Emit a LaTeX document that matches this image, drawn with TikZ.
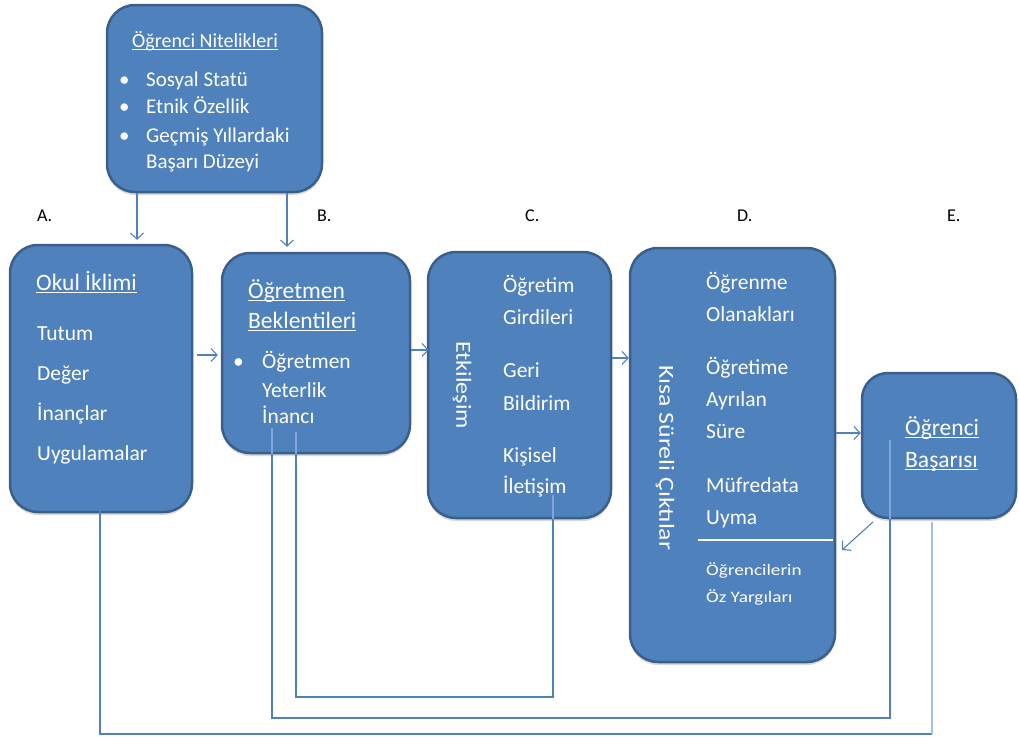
\documentclass[tikz,border=0pt]{standalone}
\usepackage{fontspec}
\setmainfont{Carlito}
\usetikzlibrary{arrows.meta,shadows}
\definecolor{boxfill}{HTML}{4F81BD}
\definecolor{boxline}{HTML}{3A5F8B}
\definecolor{conn}{HTML}{4F81BD}
\definecolor{inconn}{HTML}{7FA6DC}
\definecolor{paleconn}{HTML}{A3BFE6}
\newcommand\myul[1]{\setbox0\hbox{#1}\rlap{\rule[-2.8pt]{\wd0}{1pt}}\box0}
\tikzset{
  box/.style={draw=boxline, line width=2.5pt, fill=boxfill, rounded corners=28pt,
    drop shadow={opacity=0.3, shadow xshift=0pt, shadow yshift=-3pt}},
  txt/.style={anchor=base west, inner sep=0pt, text=white, font=\fontsize{21.5}{26}\selectfont},
  ttl/.style={txt, font=\fontsize{23.5}{28}\selectfont},
  small/.style={txt, font=\fontsize{16}{20}\selectfont},
  rot/.style={inner sep=0pt, text=white, font=\fontsize{21.5}{26}\selectfont, rotate=-90},
  lbl/.style={anchor=base west, inner sep=0pt, font=\fontsize{18}{22}\selectfont},
  arr/.style={draw=conn, line width=1.1pt, -{Straight Barb[length=6pt,width=13pt]}},
  link/.style={draw=conn, line width=1.3pt},
  inlink/.style={draw=inconn, line width=1.3pt}
}
\begin{document}
\begin{tikzpicture}[x=1pt,y=-1pt]
\useasboundingbox (0,0) rectangle (1019,736);
% boxes
\node[box, minimum width=215pt, minimum height=187pt] (N) at (214.5,98.5) {};
\node[box, minimum width=182pt, minimum height=267pt] (A) at (101,378.5) {};
\node[box, minimum width=188pt, minimum height=200pt] (B) at (316,353) {};
\node[box, minimum width=183pt, minimum height=266pt] (C) at (519.5,385) {};
\node[box, minimum width=205pt, minimum height=414pt] (D) at (732.5,455) {};
\node[box, minimum width=154pt, minimum height=145pt, rounded corners=26pt] (E) at (939,445.5) {};

% top box text
\node[txt, font=\fontsize{20}{24}\selectfont] (n0) at (132,47) {\myul{Öğrenci Nitelikleri}};
\node[txt, font=\fontsize{21}{25}\selectfont] (nb1) at (119,86) {•};
\node[txt, font=\fontsize{21}{25}\selectfont] (nb2) at (119,113) {•};
\node[txt, font=\fontsize{21}{25}\selectfont] (nb3) at (119,142) {•};
\node[txt, font=\fontsize{21}{25}\selectfont] (n1) at (146,86) {Sosyal Statü};
\node[txt, font=\fontsize{21}{25}\selectfont] (n2) at (146,113) {Etnik Özellik};
\node[txt, font=\fontsize{21}{25}\selectfont] (n3) at (146,142) {Geçmiş Yıllardaki};
\node[txt, font=\fontsize{21}{25}\selectfont] (n4) at (146,168) {Başarı Düzeyi};

% A text
\node[ttl] (a0) at (36,290) {\myul{Okul İklimi}};
\node[txt] (a1) at (37,340) {Tutum};
\node[txt] (a2) at (37,380) {Değer};
\node[txt] (a3) at (37,420) {İnançlar};
\node[txt] (a4) at (37,460) {Uygulamalar};

% B text
\node[ttl] (b0) at (248,298) {\myul{Öğretmen}};
\node[ttl] (b1) at (248,328) {\myul{Beklentileri}};
\node[txt] (bb) at (233,368) {•};
\node[txt] (b2) at (262,368) {Öğretmen};
\node[txt] (b3) at (262,397) {Yeterlik};
\node[txt] (b4) at (262,423) {İnancı};

% C text
\node[rot] (c0) at (462,385) {\scalebox{1.12}[1]{Etkileşim}};
\node[txt] (c1) at (503,292) {Öğretim};
\node[txt] (c2) at (503,324) {Girdileri};
\node[txt] (c3) at (503,377) {Geri};
\node[txt] (c4) at (503,410) {Bildirim};
\node[txt] (c5) at (503,462) {Kişisel};
\node[txt] (c6) at (503,493) {İletişim};

% D text
\node[rot] (d0) at (665,458) {\scalebox{1.2}[1]{Kısa Süreli Çıktılar}};
\node[txt] (d1) at (706,289) {Öğrenme};
\node[txt] (d2) at (706,321) {Olanakları};
\node[txt] (d3) at (706,374) {Öğretime};
\node[txt] (d4) at (706,406) {Ayrılan};
\node[txt] (d5) at (706,438) {Süre};
\node[txt] (d6) at (706,492) {Müfredata};
\node[txt] (d7) at (706,524) {Uyma};
\coordinate (dl1) at (698,540);
\coordinate (dl2) at (833,540);
\draw[white, line width=1.3pt] (dl1) -- (dl2);
\node[small] (d8) at (706,575) {\scalebox{1.2}[1]{Öğrencilerin}};
\node[small] (d9) at (706,602) {\scalebox{1.2}[1]{Öz Yargıları}};

% E text
\node[ttl] (e0) at (905,435) {\myul{Öğrenci}};
\node[ttl] (e1) at (905,467) {\myul{Başarısı}};

% column labels
\node[lbl] (lA) at (37,221) {A.};
\node[lbl] (lB) at (317,221) {B.};
\node[lbl] (lC) at (525,221) {C.};
\node[lbl] (lD) at (737,221) {D.};
\node[lbl] (lE) at (947,221) {E.};

% arrows
\coordinate (na) at (137,0);
\coordinate (nb) at (287,0);
\draw[arr, shorten >=4pt] (N.south -| na) -- (A.north -| na);
\draw[arr, shorten >=5pt] (N.south -| nb) -- (B.north -| nb);
\coordinate (yab) at (0,355);
\coordinate (ybc) at (0,350);
\coordinate (ycd) at (0,358);
\coordinate (yde) at (0,433);
\draw[arr, shorten <=4pt, shorten >=3pt] (A.east |- yab) -- (B.west |- yab);
\draw[arr, shorten >=-2pt] (B.east |- ybc) -- (C.west |- ybc);
\draw[arr] (C.east |- ycd) -- (D.west |- ycd);
\draw[arr] (D.east |- yde) -- (E.west |- yde);
\coordinate (ed1) at (873,522);
\coordinate (ed2) at (842,550);
\draw[arr] (ed1) -- (ed2);

% feedback lines
\coordinate (fa) at (100,508);
\coordinate (fe) at (932,522);
\coordinate (ya) at (0,734);
\draw[link] (fa) -- (fa |- ya) -- (fe |- ya);
\draw[draw=paleconn, line width=1.6pt] (fe |- ya) -- (fe);
\coordinate (fb) at (272,428);
\coordinate (fe2) at (890,440);
\coordinate (yb) at (0,718);
\draw[link] (fb) -- (fb |- yb) -- (fe2 |- yb) -- (fe2);
\coordinate (fb2) at (296,432);
\coordinate (fc) at (553,495);
\coordinate (yc) at (0,697);
\draw[link] (fb2) -- (fb2 |- yc) -- (fc |- yc) -- (fc);
% segments running over the boxes
\draw[inlink] (fb) -- (fb |- B.south);
\draw[inlink] (fb2) -- (fb2 |- B.south);
\draw[inlink] (fc) -- (fc |- C.south);
\draw[inlink] (fe2) -- (fe2 |- E.south);
\end{tikzpicture}
\end{document}
